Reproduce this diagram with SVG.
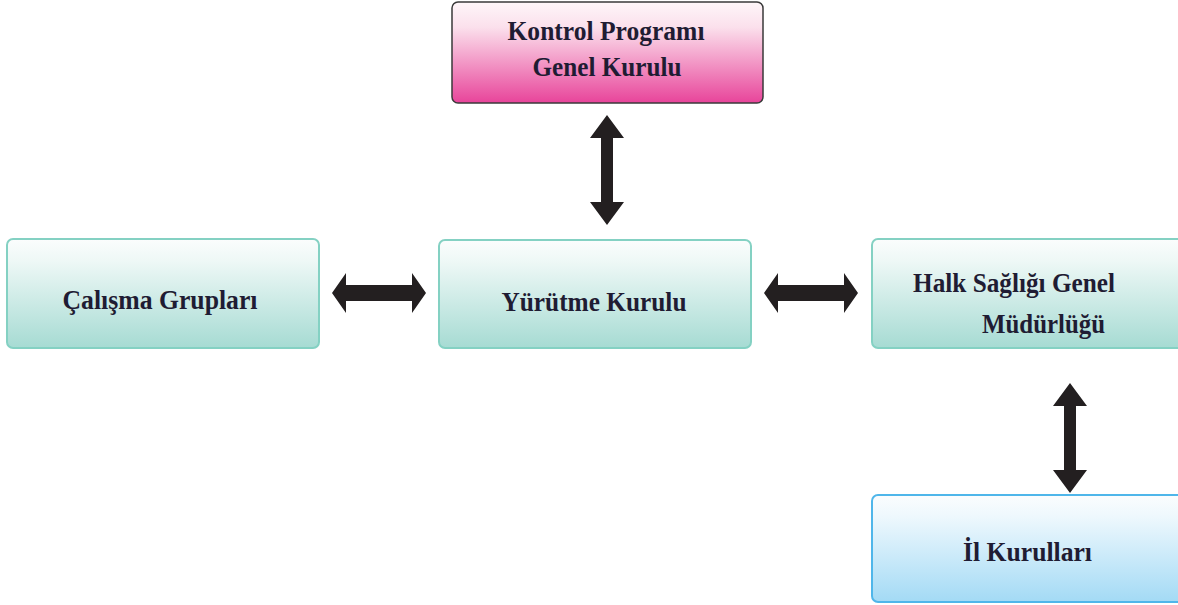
<svg xmlns="http://www.w3.org/2000/svg" width="1178" height="605" viewBox="0 0 1178 605">
<defs>
<linearGradient id="gPink" x1="0" y1="0" x2="0" y2="1">
<stop offset="0" stop-color="#fef6f9"/><stop offset="0.25" stop-color="#fbe0ec"/><stop offset="1" stop-color="#e8449a"/>
</linearGradient>
<linearGradient id="gTeal" x1="0" y1="0" x2="0" y2="1">
<stop offset="0" stop-color="#fbfdfd"/><stop offset="0.2" stop-color="#eef8f6"/><stop offset="1" stop-color="#a6dbd3"/>
</linearGradient>
<linearGradient id="gBlue" x1="0" y1="0" x2="0" y2="1">
<stop offset="0" stop-color="#fbfdfe"/><stop offset="0.2" stop-color="#eef8fd"/><stop offset="1" stop-color="#a3daf5"/>
</linearGradient>
</defs>
<style>
.lbl{font-family:"Liberation Serif","Times New Roman",serif;font-weight:bold;font-size:27px;fill:#1f1c33;}
.teal{fill:url(#gTeal);stroke:#84d1c3;stroke-width:2;}
.pink{fill:url(#gPink);stroke:#3a3a3a;stroke-width:1.5;}
.blue{fill:url(#gBlue);stroke:#4fb6ea;stroke-width:2;}
.arr{fill:#231f20;}
</style>
<rect width="1178" height="605" fill="#ffffff"/>
<g id="kontrol">
<rect class="pink" x="452" y="2" width="311" height="101" rx="6"/>
<text class="lbl" x="606" y="40" text-anchor="middle" textLength="197" lengthAdjust="spacingAndGlyphs">Kontrol Programı</text>
<text class="lbl" x="607" y="76" text-anchor="middle" textLength="149" lengthAdjust="spacingAndGlyphs">Genel Kurulu</text>
</g>
<g id="calisma">
<rect class="teal" x="7" y="239" width="312" height="109" rx="6"/>
<text class="lbl" x="160" y="309" text-anchor="middle" textLength="195" lengthAdjust="spacingAndGlyphs">Çalışma Grupları</text>
</g>
<g id="yurutme">
<rect class="teal" x="439" y="240" width="312" height="108" rx="6"/>
<text class="lbl" x="594" y="311" text-anchor="middle" textLength="185" lengthAdjust="spacingAndGlyphs">Yürütme Kurulu</text>
</g>
<g id="halk">
<rect class="teal" x="872" y="239" width="320" height="109" rx="6"/>
<text class="lbl" x="913" y="292" textLength="202" lengthAdjust="spacingAndGlyphs">Halk Sağlığı Genel</text>
<text class="lbl" x="982" y="333" textLength="123" lengthAdjust="spacingAndGlyphs">Müdürlüğü</text>
</g>
<g id="il">
<rect class="blue" x="872" y="495" width="320" height="107" rx="6"/>
<text class="lbl" x="963" y="561" textLength="129" lengthAdjust="spacingAndGlyphs">İl Kurulları</text>
</g>
<g id="connectors">
<polygon class="arr" points="332,293 346,273 346,285 412,285 412,273 426,293 412,313 412,301 346,301 346,313"/>
<polygon class="arr" points="764,293 778,273 778,285 844,285 844,273 858,293 844,313 844,301 778,301 778,313"/>
<polygon class="arr" points="607,115 624,138 613,138 613,202 624,202 607,225 590,202 601,202 601,138 590,138"/>
<polygon class="arr" points="1070,383 1087,406 1076,406 1076,470 1087,470 1070,493 1053,470 1064,470 1064,406 1053,406"/>
</g>
</svg>
